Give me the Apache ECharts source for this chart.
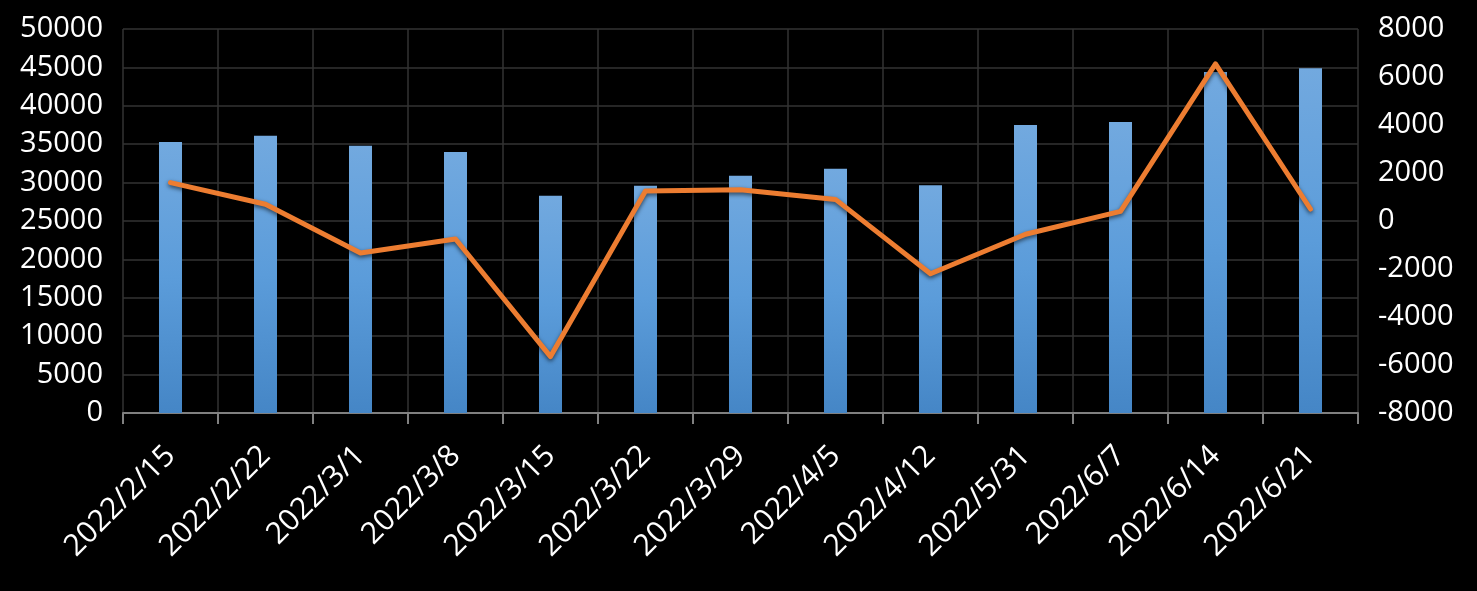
<!DOCTYPE html>
<html>
<head>
<meta charset="utf-8">
<script src="https://cdn.jsdelivr.net/npm/echarts@6/dist/echarts.min.js"></script>
<style>
html,body{margin:0;padding:0;background:#000;}
#chart{width:1477px;height:591px;}
</style>
</head>
<body>
<div id="chart"></div>
<script>
const categories = ['2022/2/15','2022/2/22','2022/3/1','2022/3/8','2022/3/15','2022/3/22','2022/3/29','2022/4/5','2022/4/12','2022/5/31','2022/6/7','2022/6/14','2022/6/21'];
const barValues = [35300, 36100, 34800, 34000, 28300, 29600, 30900, 31800, 29650, 37500, 37900, 44400, 44900];
const lineValues = [1600, 700, -1330, -750, -5650, 1250, 1300, 900, -2200, -550, 400, 6550, 500];

const chart = echarts.init(document.getElementById('chart'), null, {renderer: 'canvas'});
const font = 'Open Sans';
const plain = v => String(v);
chart.setOption({
  backgroundColor: '#000',
  animation: false,
  grid: {left: 123, right: 119, top: 29, bottom: 178, containLabel: false},
  xAxis: {
    type: 'category',
    data: categories,
    boundaryGap: true,
    axisLine: {show: true, lineStyle: {color: '#808080', width: 2}},
    axisTick: {show: true, length: 11, lineStyle: {color: '#808080', width: 2}},
    splitLine: {show: true, lineStyle: {color: '#333333', width: 1.5}},
    axisLabel: {color: '#ffffff', fontFamily: font, fontSize: 30, rotate: 45, margin: 38, interval: 0}
  },
  yAxis: [
    {
      type: 'value', min: 0, max: 50000, interval: 5000, position: 'left',
      axisLine: {show: false}, axisTick: {show: false},
      splitLine: {show: true, lineStyle: {color: '#333333', width: 1.5}},
      axisLabel: {color: '#ffffff', fontFamily: font, fontSize: 29, margin: 20, formatter: plain}
    },
    {
      type: 'value', min: -8000, max: 8000, interval: 2000, position: 'right',
      axisLine: {show: false}, axisTick: {show: false},
      splitLine: {show: false},
      axisLabel: {color: '#ffffff', fontFamily: font, fontSize: 29, margin: 20, formatter: plain}
    }
  ],
  series: [
    {
      type: 'bar', data: barValues, barWidth: 23, yAxisIndex: 0,
      itemStyle: {
        color: new echarts.graphic.LinearGradient(0, 0, 0, 1, [
          {offset: 0, color: '#72A9DF'},
          {offset: 0.5, color: '#5B9CDA'},
          {offset: 1, color: '#4586C6'}
        ])
      }
    },
    {
      type: 'line', data: lineValues, yAxisIndex: 1, symbol: 'none', smooth: false,
      lineStyle: {color: '#ED7D31', width: 5, shadowColor: 'rgba(0,0,0,0.6)', shadowBlur: 4, shadowOffsetY: 2, cap: 'round', join: 'round'}
    }
  ]
});
</script>
</body>
</html>
